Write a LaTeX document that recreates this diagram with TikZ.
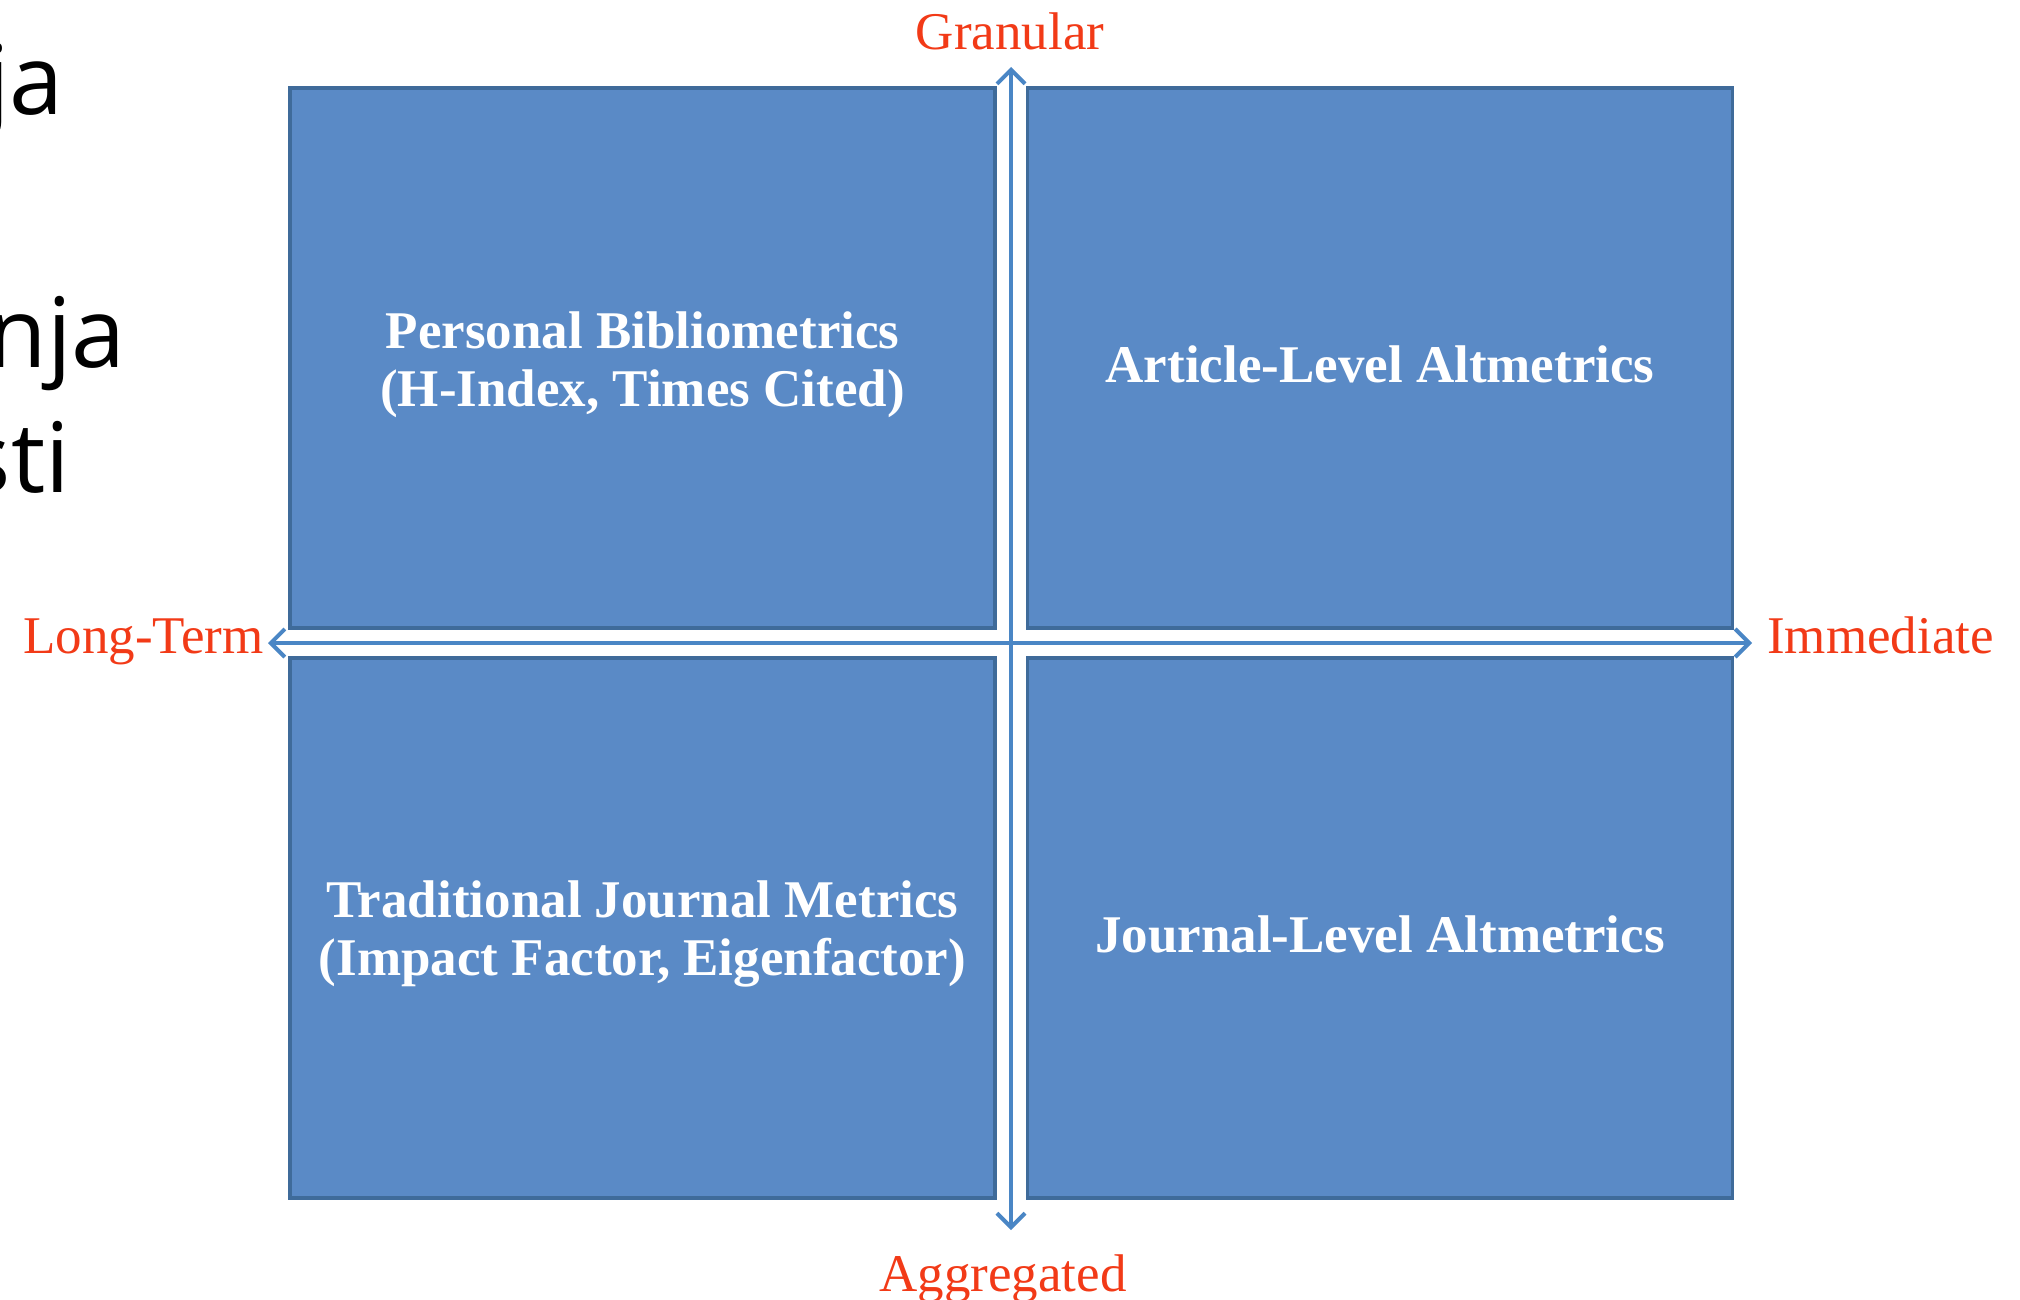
\documentclass[tikz,border=0pt]{standalone}
\usepackage{fontspec}
\setmainfont{Liberation Serif}
\newfontfamily\slidefont{Open Sans}
\usetikzlibrary{arrows.meta}
\definecolor{boxfill}{HTML}{5A8AC6}
\definecolor{boxline}{HTML}{3F6B9A}
\definecolor{axisblue}{HTML}{4A86C5}
\definecolor{axisred}{HTML}{F23A17}
\tikzset{
  quad/.style={draw=boxline, fill=boxfill, line width=3.5pt, minimum width=705pt, minimum height=540pt, inner sep=0pt},
  quadtext/.style={text=white, align=center, inner sep=0pt, font=\fontsize{53}{58}\selectfont\bfseries},
  axislabel/.style={text=axisred, inner sep=0pt, font=\fontsize{53}{60}\selectfont},
  axis/.style={draw=axisblue, line width=4pt, {Straight Barb[length=14pt,width=28pt,line width=4pt]}-{Straight Barb[length=14pt,width=28pt,line width=4pt]}},
  slidetext/.style={text=black, inner sep=0pt, font=\slidefont\fontsize{97}{126}\selectfont}
}
\begin{document}
\begin{tikzpicture}[x=1pt,y=-1pt]
\useasboundingbox (0,0) rectangle (2020,1300);
\clip (0,0) rectangle (2020,1300);
\fill[white] (0,0) rectangle (2020,1300);

% cropped slide text at the left edge
\node[slidetext, anchor=base east] (s1) at (64,115) {ja};
\node[slidetext, anchor=base east] (s2) at (126,367) {nja};
\node[slidetext, anchor=base east] (s3) at (70,492) {sti};

% quadrants
\node[quad] (tl) at (642.5,358) {};
\node[quad] (tr) at (1380,358) {};
\node[quad] (bl) at (642.5,928) {};
\node[quad] (br) at (1380,928) {};
\node[quadtext] (tlt) at ([yshift=-7pt]tl.center) {Personal Bibliometrics\\(H-Index, Times Cited)};
\node[quadtext] (trt) at ([yshift=-6pt]tr.center) {Article-Level Altmetrics};
\node[quadtext] (blt) at ([yshift=-6pt]bl.center) {Traditional Journal Metrics\\(Impact Factor, Eigenfactor)};
\node[quadtext] (brt) at ([yshift=-6pt]br.center) {Journal-Level Altmetrics};

% axes
\coordinate (up) at (1011,67);
\coordinate (down) at (1011,1230);
\coordinate (left) at (268,643);
\coordinate (right) at (1752,643);
\draw[axis] (down) -- (up);
\draw[axis] (left) -- (right);

% axis labels
\node[axislabel, anchor=base] (gran) at (1010,50) {Granular};
\node[axislabel, anchor=base] (aggr) at (1003,1291) {Aggregated};
\node[axislabel, anchor=base east] (long) at (264,653) {Long-Term};
\node[axislabel, anchor=base west] (imm) at (1767,653) {Immediate};
\end{tikzpicture}
\end{document}
